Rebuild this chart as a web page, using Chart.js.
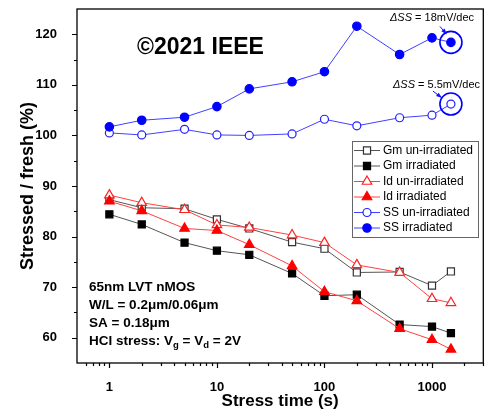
<!DOCTYPE html>
<html><head><meta charset="utf-8">
<script src="https://cdn.jsdelivr.net/npm/chart.js@4/dist/chart.umd.min.js"></script>
<style>html,body{margin:0;padding:0;background:#fff}#wrap{width:490px;height:418px}</style>
</head><body><div id="wrap"><canvas id="c" width="490" height="418"></canvas></div>
<script>
// ---- data ----
const stressTime = [1, 2, 5, 10, 20, 50, 100, 200, 500, 1000, 1500];
const gmUnirradiated = [87.3, 85.7, 85.5, 83.4, 81.6, 78.9, 77.6, 72.9, 73.0, 70.3, 73.1];
const gmIrradiated   = [84.4, 82.4, 78.8, 77.2, 76.4, 72.7, 68.3, 68.5, 62.6, 62.2, 60.9];
const idUnirradiated = [88.2, 86.7, 85.3, 82.3, 81.8, 80.3, 78.8, 74.4, 72.9, 67.7, 66.9];
const idIrradiated   = [87.0, 85.1, 81.6, 81.2, 78.4, 74.2, 69.1, 67.3, 61.8, 59.6, 57.7];
const ssUnirradiated = [100.5, 100.1, 101.2, 100.1, 100.0, 100.3, 103.2, 101.9, 103.5, 104.0, 106.2];
const ssIrradiated   = [101.7, 103.0, 103.6, 105.7, 109.2, 110.6, 112.6, 121.6, 116.0, 119.3, 118.4];
const seriesLabels = ['Gm un-irradiated', 'Gm irradiated', 'Id un-irradiated', 'Id irradiated', 'SS un-irradiated', 'SS irradiated'];
const xTickValues = [1, 10, 100, 1000];
const xMinorTicks = [0.6, 0.7, 0.8, 0.9, 2, 3, 4, 5, 6, 7, 8, 9, 20, 30, 40, 50, 60, 70, 80, 90, 200, 300, 400, 500, 600, 700, 800, 900, 2000, 3000];
const yTickValues = [60, 70, 80, 90, 100, 110, 120];
const yMinorTicks = [65, 75, 85, 95, 105, 115];
const ssAnnotations = ['18mV/dec', '5.5mV/dec'];
const infoLines = ['65nm LVT nMOS', 'W/L = 0.2\u03bcm/0.06\u03bcm', 'SA = 0.18\u03bcm'];

const FONT = "'Liberation Sans', Arial, sans-serif";
Chart.defaults.font.family = FONT;
Chart.defaults.color = '#000';

function pts(arr) { return stressTime.map((t, i) => ({x: t, y: arr[i]})); }

const styles = [
  {line: '#555', fill: '#fff', stroke: '#333', shape: 'rect', r: 5},
  {line: '#555', fill: '#000', stroke: '#000', shape: 'rect', r: 5},
  {line: '#ff4040', fill: '#fff', stroke: '#ff2020', shape: 'triangle', r: 5.5},
  {line: '#ff4040', fill: '#ff0000', stroke: '#ff0000', shape: 'triangle', r: 5.5},
  {line: '#4040ff', fill: '#fff', stroke: '#2020ff', shape: 'circle', r: 4},
  {line: '#4040ff', fill: '#0000ff', stroke: '#0000ff', shape: 'circle', r: 4.2}
];
const series = [gmUnirradiated, gmIrradiated, idUnirradiated, idIrradiated, ssUnirradiated, ssIrradiated];

const datasets = series.map((s, i) => ({
  label: seriesLabels[i],
  data: pts(s),
  borderColor: styles[i].line,
  borderWidth: 1,
  pointStyle: styles[i].shape,
  pointRadius: styles[i].r,
  pointBackgroundColor: styles[i].fill,
  pointBorderColor: styles[i].stroke,
  pointBorderWidth: 1.2,
  tension: 0,
  order: 5 - i
}));

function drawMarker(ctx, shape, cx, cy, r, fill, stroke, bw) {
  ctx.beginPath();
  if (shape === 'circle') ctx.arc(cx, cy, r, 0, Math.PI * 2);
  else if (shape === 'rect') { const s = r * Math.SQRT1_2; ctx.rect(cx - s, cy - s, 2 * s, 2 * s); }
  else {
    ctx.moveTo(cx, cy - r);
    ctx.lineTo(cx + r * Math.sin(2 * Math.PI / 3), cy - r * Math.cos(2 * Math.PI / 3));
    ctx.lineTo(cx + r * Math.sin(4 * Math.PI / 3), cy - r * Math.cos(4 * Math.PI / 3));
    ctx.closePath();
  }
  ctx.fillStyle = fill; ctx.fill();
  ctx.lineWidth = bw; ctx.strokeStyle = stroke; ctx.stroke();
}

function arrow(ctx, x1, y1, x2, y2, color) {
  ctx.strokeStyle = color; ctx.fillStyle = color; ctx.lineWidth = 1;
  ctx.beginPath(); ctx.moveTo(x1, y1); ctx.lineTo(x2, y2); ctx.stroke();
  const a = Math.atan2(y2 - y1, x2 - x1), h = 5;
  ctx.beginPath();
  ctx.moveTo(x2 + Math.cos(a) * 1.5, y2 + Math.sin(a) * 1.5);
  ctx.lineTo(x2 - h * Math.cos(a - 0.45), y2 - h * Math.sin(a - 0.45));
  ctx.lineTo(x2 - h * Math.cos(a + 0.45), y2 - h * Math.sin(a + 0.45));
  ctx.closePath(); ctx.fill();
}

const decorations = {
  id: 'decorations',
  afterDraw(chart) {
    const {ctx, chartArea: a, scales: {x, y}} = chart;
    ctx.save();
    // frame
    ctx.strokeStyle = '#000'; ctx.lineWidth = 1.3;
    ctx.strokeRect(a.left, a.top, a.right - a.left, a.bottom - a.top);
    // ticks
    ctx.lineWidth = 1.2;
    ctx.beginPath();
    yTickValues.forEach(v => { const p = Math.round(y.getPixelForValue(v)) + 0.5; ctx.moveTo(a.left - 5, p); ctx.lineTo(a.left, p); });
    yMinorTicks.forEach(v => { const p = Math.round(y.getPixelForValue(v)) + 0.5; ctx.moveTo(a.left - 3, p); ctx.lineTo(a.left, p); });
    xTickValues.forEach(v => { const p = Math.round(x.getPixelForValue(v)) + 0.5; ctx.moveTo(p, a.bottom); ctx.lineTo(p, a.bottom + 5); });
    xMinorTicks.forEach(v => { const p = Math.round(x.getPixelForValue(v)) + 0.5; ctx.moveTo(p, a.bottom); ctx.lineTo(p, a.bottom + 3); });
    ctx.stroke();

    // legend
    const lx = 352, ly = 141, lw = 126, lh = 96;
    ctx.fillStyle = '#fff'; ctx.fillRect(lx, ly, lw, lh);
    ctx.strokeStyle = '#666'; ctx.lineWidth = 1;
    ctx.strokeRect(lx + 0.5, ly + 0.5, lw, lh);
    ctx.font = '12px ' + FONT; ctx.textBaseline = 'middle'; ctx.textAlign = 'left';
    chart.data.datasets.forEach((ds, i) => {
      const ry = ly + 9.5 + i * 15.5;
      ctx.strokeStyle = ds.borderColor; ctx.lineWidth = 1;
      ctx.beginPath(); ctx.moveTo(lx + 2, ry); ctx.lineTo(lx + 28, ry); ctx.stroke();
      drawMarker(ctx, ds.pointStyle, lx + 15, ry, ds.pointRadius, ds.pointBackgroundColor, ds.pointBorderColor, ds.pointBorderWidth);
      ctx.fillStyle = '#000';
      ctx.fillText(ds.label, lx + 31, ry);
    });

    // SS annotation circles and labels
    const offsets = [{tx: -61, ty: -24, a: [-11, -16, -5, -9]}, {tx: -58, ty: -19, a: [-18, -13, -10, -7]}];
    [5, 4].forEach((di, k) => {
      const meta = chart.getDatasetMeta(di);
      const el = meta.data[meta.data.length - 1];
      const cx = el.x, cy = el.y;
      ctx.strokeStyle = '#0000ff'; ctx.lineWidth = 1.6;
      ctx.beginPath(); ctx.arc(cx, cy, 11, 0, Math.PI * 2); ctx.stroke();
      const o = offsets[k];
      arrow(ctx, cx + o.a[0], cy + o.a[1], cx + o.a[2], cy + o.a[3], '#1010ff');
      ctx.fillStyle = '#000'; ctx.textBaseline = 'middle'; ctx.textAlign = 'left';
      let tx = cx + o.tx; const ty = cy + o.ty;
      ctx.font = 'italic 11px ' + FONT;
      ctx.fillText('\u0394SS', tx, ty); tx += ctx.measureText('\u0394SS').width;
      ctx.font = '11px ' + FONT;
      ctx.fillText(' = ' + ssAnnotations[k], tx, ty);
    });

    // copyright
    ctx.font = 'bold 23px ' + FONT; ctx.fillStyle = '#000'; ctx.textAlign = 'left'; ctx.textBaseline = 'middle';
    ctx.fillText('\u00a92021 IEEE', a.left + 60, a.top + 39);

    // info block
    ctx.font = 'bold 13.5px ' + FONT;
    const bx = a.left + 12;
    infoLines.forEach((t, i) => ctx.fillText(t, bx, a.top + 278 + i * 18));
    let hx = bx; const hy = a.top + 278 + 3 * 18;
    const seg = (t, sub) => {
      ctx.font = sub ? 'bold 9.5px ' + FONT : 'bold 13.5px ' + FONT;
      ctx.fillText(t, hx, sub ? hy + 4 : hy); hx += ctx.measureText(t).width;
    };
    seg('HCI stress: V'); seg('g', true); seg(' = V'); seg('d', true); seg(' = 2V');
    ctx.restore();
  }
};

function zeroPad(s) { s.paddingTop = 0; s.paddingBottom = 0; s.paddingLeft = 0; s.paddingRight = 0; }

new Chart(document.getElementById('c'), {
  type: 'line',
  data: {datasets},
  options: {
    responsive: false,
    animation: false,
    layout: {padding: {top: 9, right: 3, left: 0, bottom: 0}},
    plugins: {legend: {display: false}, tooltip: {enabled: false}},
    scales: {
      x: {
        type: 'logarithmic', min: 0.5, max: 3000,
        grid: {display: false}, border: {display: false},
        afterBuildTicks: s => { s.ticks = xTickValues.map(v => ({value: v})); },
        afterFit: s => { s.height = 55; zeroPad(s); },
        ticks: {font: {size: 13, weight: 'bold'}, padding: 9, maxRotation: 0, autoSkip: false, callback: v => String(v)},
        title: {display: true, text: 'Stress time (s)', font: {size: 17, weight: 'bold'}, padding: {top: 6, bottom: 6}}
      },
      y: {
        type: 'linear', min: 55, max: 125,
        grid: {display: false}, border: {display: false},
        afterBuildTicks: s => { s.ticks = yTickValues.map(v => ({value: v})); },
        afterFit: s => { s.width = 77; zeroPad(s); },
        ticks: {font: {size: 13, weight: 'bold'}, padding: 12, callback: v => String(v)},
        title: {display: true, text: 'Stressed / fresh (%)', font: {size: 18, weight: 'bold'}, padding: {top: 17, bottom: 0}}
      }
    }
  },
  plugins: [decorations]
});
</script></body></html>
